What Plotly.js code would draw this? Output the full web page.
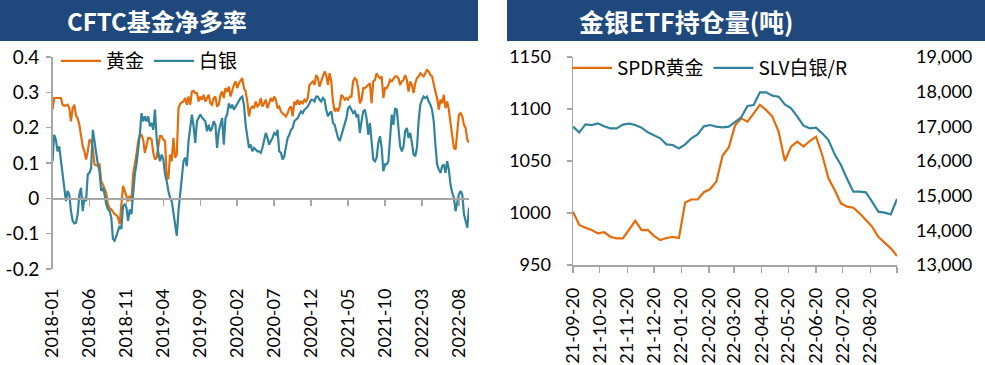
<!DOCTYPE html>
<html><head><meta charset="utf-8">
<script src="https://cdn.plot.ly/plotly-3.0.1.min.js"></script>
<style>html,body{margin:0;padding:0;background:#fff;} #chart{width:985px;height:365px;}</style>
</head><body><div id="chart"></div>
<script>
// ---------- Left chart: CFTC fund net-long ratio (weekly) ----------
const cftcStart = '2018-01-02';
const cftcTickLabels = ['2018-01','2018-06','2018-11','2019-04','2019-09','2020-02','2020-07','2020-12','2021-05','2021-10','2022-03','2022-08'];
const cftcYTicks = [-0.2,-0.1,0,0.1,0.2,0.3,0.4];
const cftcYLabels = ['-0.2','-0.1','0','0.1','0.2','0.3','0.4'];
const goldNet = [
0.251,0.284,0.284,0.284,0.286,0.284,0.265,0.262,0.263,0.265,
0.255,0.218,0.255,0.265,0.234,0.227,0.208,0.180,0.147,0.133,
0.110,0.133,0.166,0.162,0.143,0.096,0.093,0.093,0.096,0.049,
0.039,0.030,0.016,-0.017,-0.028,-0.031,-0.040,-0.045,-0.047,-0.054,
-0.073,-0.026,0.035,0.021,0.007,-0.008,0.007,-0.008,0.068,0.091,
0.124,0.162,0.180,0.180,0.166,0.129,0.152,0.171,0.171,0.166,
0.129,0.110,0.115,0.143,0.176,0.176,0.166,0.162,0.063,0.054,
0.124,0.105,0.171,0.115,0.124,0.255,0.267,0.272,0.274,0.284,
0.265,0.288,0.265,0.302,0.304,0.298,
0.298,0.274,0.288,0.279,0.293,0.274,0.284,0.293,0.269,0.265,
0.284,0.288,0.260,0.265,0.293,0.302,0.284,0.312,0.302,0.316,
0.288,0.307,0.321,0.331,0.312,0.326,0.335,0.340,0.312,0.302,
0.274,0.232,0.255,0.260,0.255,0.274,0.260,0.265,0.284,0.260,
0.269,0.279,0.255,0.269,0.284,0.274,
0.288,0.279,0.255,0.260,0.246,0.241,0.237,0.232,0.241,0.255,
0.260,0.232,0.274,0.265,0.279,0.265,0.274,0.269,0.279,0.274,
0.284,0.321,0.326,0.331,0.321,0.349,0.340,0.316,0.331,0.349,
0.359,0.349,0.321,0.354,0.331,0.274,0.246,
0.255,0.246,0.260,0.293,0.288,0.279,0.284,0.279,0.288,0.288,
0.331,0.340,0.335,0.312,0.269,0.279,0.312,0.312,0.316,0.321,
0.326,0.269,0.331,0.335,0.354,0.345,0.340,0.345,0.284,0.312,
0.312,0.321,0.335,0.331,0.340,0.345,
0.345,0.340,0.321,0.331,0.335,0.349,0.335,0.302,0.331,0.321,
0.298,0.326,0.340,0.345,0.354,0.349,0.345,0.354,0.363,0.359,
0.349,0.345,0.321,0.302,0.284,0.251,0.279,0.269,0.293,0.255,
0.274,0.251,0.213,0.180,0.143,0.138,0.190,0.237,0.241,0.232,
0.208,0.199,0.166,0.157];
const silverNet = [
0.105,0.180,0.166,0.133,0.147,0.105,0.058,0.030,-0.008,0.021,
0.011,-0.036,-0.064,-0.071,-0.069,-0.045,0.011,0.030,-0.036,0.002,
-0.008,0.068,0.072,0.086,0.194,0.162,0.124,0.096,0.077,0.021,
0.030,0.011,-0.017,-0.031,-0.036,-0.054,-0.115,-0.120,-0.106,-0.092,
-0.078,-0.087,-0.022,-0.017,-0.026,-0.064,-0.031,-0.045,0.021,0.068,
0.096,0.133,0.180,0.241,0.218,0.232,0.218,0.232,0.204,0.213,
0.194,0.251,0.171,0.129,0.105,0.124,0.110,0.068,0.049,0.021,
0.002,-0.008,-0.045,-0.073,-0.106,-0.036,0.011,0.058,0.105,0.115,
0.091,0.162,0.208,0.237,0.204,0.157,
0.218,0.227,0.237,0.229,0.223,0.218,0.190,0.208,0.190,0.199,
0.218,0.208,0.143,0.190,0.208,0.227,0.152,0.227,0.237,0.269,
0.255,0.265,0.251,0.260,0.265,0.274,0.284,0.288,0.265,0.208,
0.171,0.143,0.152,0.133,0.143,0.138,0.133,0.133,0.129,0.143,
0.162,0.185,0.171,0.152,0.162,0.171,
0.185,0.180,0.194,0.133,0.129,0.110,0.119,0.143,0.171,0.180,
0.194,0.199,0.218,0.223,0.227,0.237,0.246,0.241,0.251,0.255,
0.260,0.269,0.279,0.279,0.274,0.288,0.288,0.279,0.274,0.284,
0.279,0.251,0.232,0.241,0.246,0.213,0.208,
0.190,0.171,0.162,0.180,0.194,0.208,0.227,0.255,0.260,0.251,
0.241,0.246,0.232,0.237,0.185,0.218,0.246,0.251,0.227,0.180,
0.213,0.162,0.110,0.105,0.115,0.157,0.176,0.143,0.077,0.096,
0.096,0.105,0.171,0.237,0.208,0.255,
0.251,0.190,0.147,0.133,0.147,0.190,0.199,0.171,0.185,0.157,
0.124,0.119,0.143,0.218,0.265,0.279,0.288,0.284,0.288,0.274,
0.265,0.251,0.218,0.152,0.096,0.082,0.072,0.091,0.096,0.072,
0.105,0.082,0.039,0.016,0.002,-0.036,-0.008,0.011,0.021,0.011,
-0.045,-0.069,-0.083,-0.026];

// ---------- Right chart: gold & silver ETF holdings (tonnes, weekly) ----------
const etfStart = '2021-09-20';
const etfTickLabels = ['21-09-20','21-10-20','21-11-20','21-12-20','22-01-20','22-02-20','22-03-20','22-04-20','22-05-20','22-06-20','22-07-20','22-08-20'];
const spdrGold = [1001.3,988.5,985.9,983.7,980.4,981.5,977.2,975.6,975.6,984,
992.5,983.5,983.7,978,974,976,977,976,1010,1013,
1013,1020,1023,1030,1055,1063,1084,1091,1087.8,1095.8,
1104,1099,1092.6,1078.2,1050,1063.8,1068.6,1063.8,1069.2,1073.4,
1055.8,1033.3,1022.1,1009.3,1006.1,1005.1,999.7,993.3,986.9,977.2,
971.8,966,958.7];
const slvSilver = [16990,16827,17058,17038,17086,17000,16942,16942,17048,17077,
17038,16962,16827,16740,16654,16481,16461,16365,16481,16654,
16769,17000,17038,16990,16971,16990,17134,17259,17586,17615,
17981,17981,17884,17856,17634,17519,17279,17019,16942,16962,
16798,16606,16192,15885,15481,15115,15115,15096,14827,14538,
14510,14461,14904];

function weekly(start, n) {
  const out = [];
  const d0 = new Date(start + 'T00:00:00Z').getTime();
  for (let i = 0; i < n; i++) out.push(new Date(d0 + i * 7 * 86400000).toISOString().slice(0, 10));
  return out;
}
const cftcDates = weekly(cftcStart, goldNet.length);
const cftcTickVals = cftcTickLabels.map((_, i) => cftcDates[i * 22]);
const etfDates = weekly(etfStart, spdrGold.length);
const etfTickVals = etfTickLabels.map(l => '20' + l).concat([etfDates[etfDates.length - 1]]);
const etfTickText = etfTickLabels.concat(['']);

// ---------- layout helpers ----------
const W = 985, H = 365;
const px = x => x / W, py = y => 1 - y / H;
const GOLD = '#E46C0A', SILVER = '#31849B', AX = '#A6A6A6', HEAD = '#1F497D';
const tickFont = {family: 'Lato, "Noto Sans", sans-serif', size: 18, color: '#000'};
const cjkFont = {family: '"Noto Sans CJK SC", "Noto Sans", sans-serif', size: 19, color: '#000'};

const leftY = [py(269), py(57)];
const zeroPos = leftY[0] + (0 - (-0.2)) / 0.6 * (leftY[1] - leftY[0]);

const traces = [
  {x: cftcDates, y: goldNet, name: '黄金', type: 'scatter', mode: 'lines', line: {color: GOLD, width: 2.2}, xaxis: 'x', yaxis: 'y', legend: 'legend'},
  {x: cftcDates, y: silverNet, name: '白银', type: 'scatter', mode: 'lines', line: {color: SILVER, width: 2.2}, xaxis: 'x', yaxis: 'y', legend: 'legend'},
  {x: [cftcDates[0]], y: [0], type: 'scatter', mode: 'markers', marker: {opacity: 0}, xaxis: 'x2', yaxis: 'y', showlegend: false, hoverinfo: 'skip'},
  {x: etfDates, y: spdrGold, name: 'SPDR黄金', type: 'scatter', mode: 'lines', line: {color: GOLD, width: 2.2}, xaxis: 'x3', yaxis: 'y3', legend: 'legend2'},
  {x: etfDates, y: slvSilver, name: 'SLV白银/R', type: 'scatter', mode: 'lines', line: {color: SILVER, width: 2.2}, xaxis: 'x3', yaxis: 'y4', legend: 'legend2'}
];

const layout = {
  width: W, height: H,
  margin: {l: 0, r: 0, t: 0, b: 0},
  paper_bgcolor: '#fff', plot_bgcolor: 'rgba(0,0,0,0)',
  showlegend: true,
  xaxis: {domain: [px(52.5), px(469)], anchor: 'y', type: 'date',
    range: [cftcDates[0], cftcDates[cftcDates.length - 1]],
    tickmode: 'array', tickvals: cftcTickVals, ticktext: cftcTickLabels, tickangle: -90,
    ticks: '', showline: false, showgrid: false, zeroline: false, ticklabelstandoff: 15, tickfont: tickFont},
  xaxis2: {overlaying: 'x', anchor: 'free', position: zeroPos, type: 'date',
    range: [cftcDates[0], cftcDates[cftcDates.length - 1]],
    tickmode: 'array', tickvals: cftcTickVals, showticklabels: false,
    ticks: 'outside', ticklen: 6, tickcolor: AX, tickwidth: 1.5,
    showline: true, linecolor: AX, linewidth: 1.5, showgrid: false, zeroline: false},
  yaxis: {domain: leftY, anchor: 'x', range: [-0.2, 0.4],
    tickmode: 'array', tickvals: cftcYTicks, ticktext: cftcYLabels,
    ticks: 'outside', ticklen: 5, tickcolor: AX, tickwidth: 1.5,
    showline: true, linecolor: AX, linewidth: 1.5, showgrid: false, zeroline: false,
    ticklabelstandoff: 3, tickfont: {family: tickFont.family, size: 19, color: '#000'}},
  xaxis3: {domain: [px(573), px(897)], anchor: 'y3', type: 'date',
    range: [etfDates[0], etfDates[etfDates.length - 1]],
    tickmode: 'array', tickvals: etfTickVals, ticktext: etfTickText, tickangle: -90,
    ticks: 'outside', ticklen: 6, tickcolor: AX, tickwidth: 1.5,
    showline: true, linecolor: AX, linewidth: 1.5, showgrid: false, zeroline: false,
    ticklabelstandoff: 8, tickfont: tickFont},
  yaxis3: {domain: [py(265), py(57)], anchor: 'x3', range: [950, 1150], dtick: 50, tick0: 950,
    ticks: 'outside', ticklen: 5, tickcolor: AX, tickwidth: 1.5,
    showline: true, linecolor: AX, linewidth: 1.5, showgrid: false, zeroline: false,
    ticklabelstandoff: 12, tickfont: tickFont},
  yaxis4: {overlaying: 'y3', anchor: 'x3', side: 'right', range: [13000, 19000], dtick: 1000, tick0: 13000,
    tickformat: ',d', ticks: '', showline: false, showgrid: false, zeroline: false,
    ticklabelstandoff: 18, tickfont: tickFont},
  legend: {orientation: 'h', x: px(56), xanchor: 'left', y: py(61), yanchor: 'middle',
    bgcolor: 'rgba(0,0,0,0)', font: cjkFont, itemwidth: 40, tracegroupgap: 0},
  legend2: {orientation: 'h', x: px(567), xanchor: 'left', y: py(68), yanchor: 'middle',
    bgcolor: 'rgba(0,0,0,0)', font: cjkFont, itemwidth: 40, tracegroupgap: 0},
  shapes: [
    {type: 'rect', xref: 'paper', yref: 'paper', x0: 0, x1: px(478), y0: py(41), y1: 1, fillcolor: HEAD, line: {width: 0}, layer: 'below'},
    {type: 'rect', xref: 'paper', yref: 'paper', x0: px(507), x1: 1, y0: py(41), y1: 1, fillcolor: HEAD, line: {width: 0}, layer: 'below'}
  ],
  annotations: [
    {text: '<b>CFTC基金净多率</b>', xref: 'paper', yref: 'paper', x: px(65), xanchor: 'left', y: py(21), yanchor: 'middle', showarrow: false,
      font: {family: '"Noto Sans CJK SC", sans-serif', size: 24, color: '#fff'}},
    {text: '<b>金银ETF持仓量(吨)</b>', xref: 'paper', yref: 'paper', x: px(577), xanchor: 'left', y: py(21), yanchor: 'middle', showarrow: false,
      font: {family: '"Noto Sans CJK SC", sans-serif', size: 25, color: '#fff'}}
  ]
};

Plotly.newPlot('chart', traces, layout, {staticPlot: true, displayModeBar: false});
</script>
</body></html>
